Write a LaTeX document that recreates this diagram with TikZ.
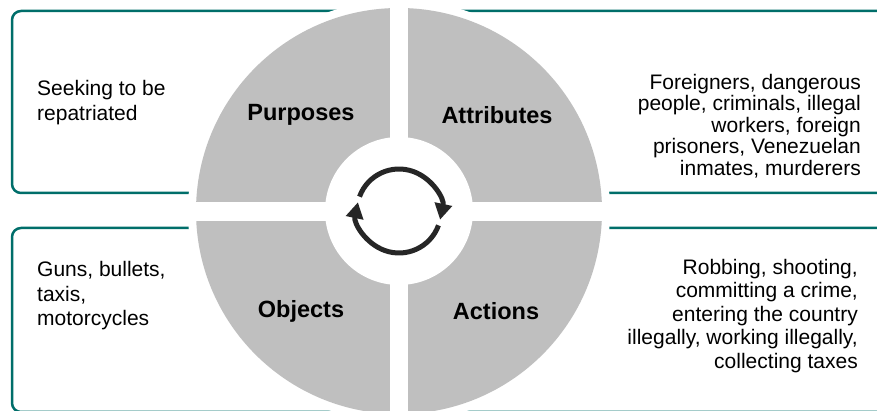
\documentclass[tikz,border=0pt]{standalone}
\usepackage{fontspec}
\setmainfont{Liberation Sans}
\usetikzlibrary{positioning,arrows.meta}
\definecolor{frameteal}{RGB}{0,110,106}
\definecolor{quadgrey}{RGB}{191,191,191}
\definecolor{cyclegrey}{RGB}{38,38,38}

\begin{document}
\begin{tikzpicture}[x=1pt,y=1pt,
                    frame box/.style={draw=frameteal,line width=2.5pt,rounded corners=9pt},
                    quad label/.style={font=\fontsize{23.5}{28}\selectfont\bfseries},
                    note text/.style={font=\fontsize{21}{#1}\selectfont,inner sep=0pt},
                    cycle arc/.style={draw=cyclegrey,line width=5pt,-{Triangle[length=16pt,width=17pt]}}]
  \useasboundingbox (0,0) rectangle (877,411);
  \clip (0,0) rectangle (877,411);

  % frames
  \draw[frame box] (12,400) rectangle (450,218);
  \draw[frame box] (12,183) rectangle (450,-1);
  \draw[frame box] (350,400) rectangle (889,218);
  \draw[frame box] (350,183) rectangle (889,-1);

  % wheel
  \coordinate (hub) at (399,200);
  \fill[white] (hub) circle (211pt);
  \fill[quadgrey] (hub) circle (203pt);
  \begin{scope}
    \clip (hub) circle (204pt);
    \fill[white] (390,-10) rectangle (408,420);
    \fill[white] (180,190) rectangle (620,209);
  \end{scope}
  \fill[white] (hub) circle (74pt);
  \draw[cycle arc] ([shift={(160:42pt)}]hub) arc (160:-12:42pt);
  \draw[cycle arc] ([shift={(-20:42pt)}]hub) arc (-20:-192:42pt);

  % quadrant labels
  \node[quad label] (purposes) at (301,296) {Purposes};
  \node[quad label] (attributes) at (497,296) {Attributes};
  \node[quad label] (objects) at (301,100) {Objects};
  \node[quad label] (actions) at (496,100) {Actions};

  % notes
  \node[note text=25,anchor=west,align=left] (purposenote) at (37,308)
    {Seeking to be\\repatriated};
  \node[note text=24.5,anchor=west,align=left] (objectnote) at (37,115)
    {Guns, bullets,\\taxis,\\motorcycles};
  \node[note text=21.5,anchor=east,align=right] (attributenote) at (861,285)
    {Foreigners, dangerous\\people, criminals, illegal\\workers, foreign\\prisoners, Venezuelan\\inmates, murderers};
  \node[note text=23.5,anchor=east,align=right] (actionnote) at (858,95)
    {Robbing, shooting,\\committing a crime,\\entering the country\\illegally, working illegally,\\collecting taxes};
\end{tikzpicture}
\end{document}
